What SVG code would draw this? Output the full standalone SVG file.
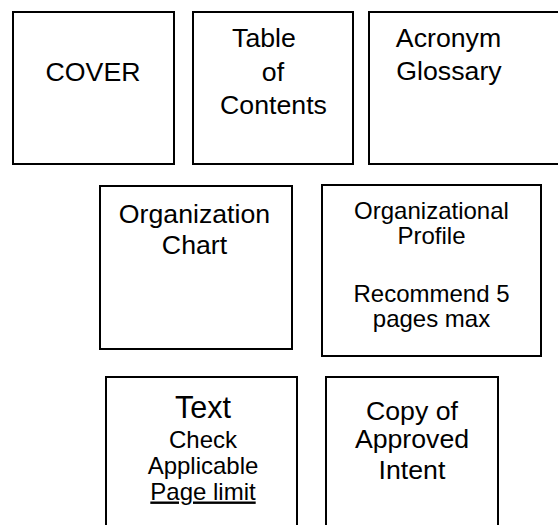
<svg xmlns="http://www.w3.org/2000/svg" width="558" height="525" viewBox="0 0 558 525">
<style>
.box{fill:#fff;stroke:#000;stroke-width:2}
text{font-family:"Liberation Sans",Arial,sans-serif;fill:#000;text-anchor:middle}
.l{font-size:26.7px}
.m{font-size:24px}
.t{font-size:30.5px}
</style>
<rect width="558" height="525" fill="#fff"/>
<g id="cover"><rect class="box" x="13" y="12" width="161" height="152"/><text class="l" x="93" y="80.5">COVER</text></g>
<g id="toc"><rect class="box" x="193" y="12" width="160" height="152"/><text class="l" x="264" y="47">Table</text><text class="l" x="273" y="80.5">of</text><text class="l" x="273.5" y="113.5">Contents</text></g>
<g id="acronym"><rect class="box" x="369" y="12" width="200" height="152"/><text class="l" x="448.5" y="47">Acronym</text><text class="l" x="449" y="80">Glossary</text></g>
<g id="orgchart"><rect class="box" x="100" y="186" width="192" height="163"/><text class="l" x="194.5" y="222.5">Organization</text><text class="l" x="194.5" y="253.5">Chart</text></g>
<g id="orgprofile"><rect class="box" x="322" y="185" width="219" height="171"/><text class="m" x="431.5" y="218.5">Organizational</text><text class="m" x="431.5" y="244">Profile</text><text class="m" x="431.5" y="301.5">Recommend 5</text><text class="m" x="431.5" y="326.5">pages max</text></g>
<g id="text"><rect class="box" x="106" y="377" width="191" height="200"/><text class="t" x="203" y="417.5">Text</text><text class="m" x="203" y="447.5">Check</text><text class="m" x="203" y="473.5">Applicable</text><text class="m" x="203" y="499.5" text-decoration="underline">Page limit</text></g>
<g id="intent"><rect class="box" x="326" y="377" width="172" height="200"/><text class="l" x="412" y="419.5">Copy of</text><text class="l" x="412" y="447.5">Approved</text><text class="l" x="412" y="478.5">Intent</text></g>
<g id="connectors"/>
</svg>
